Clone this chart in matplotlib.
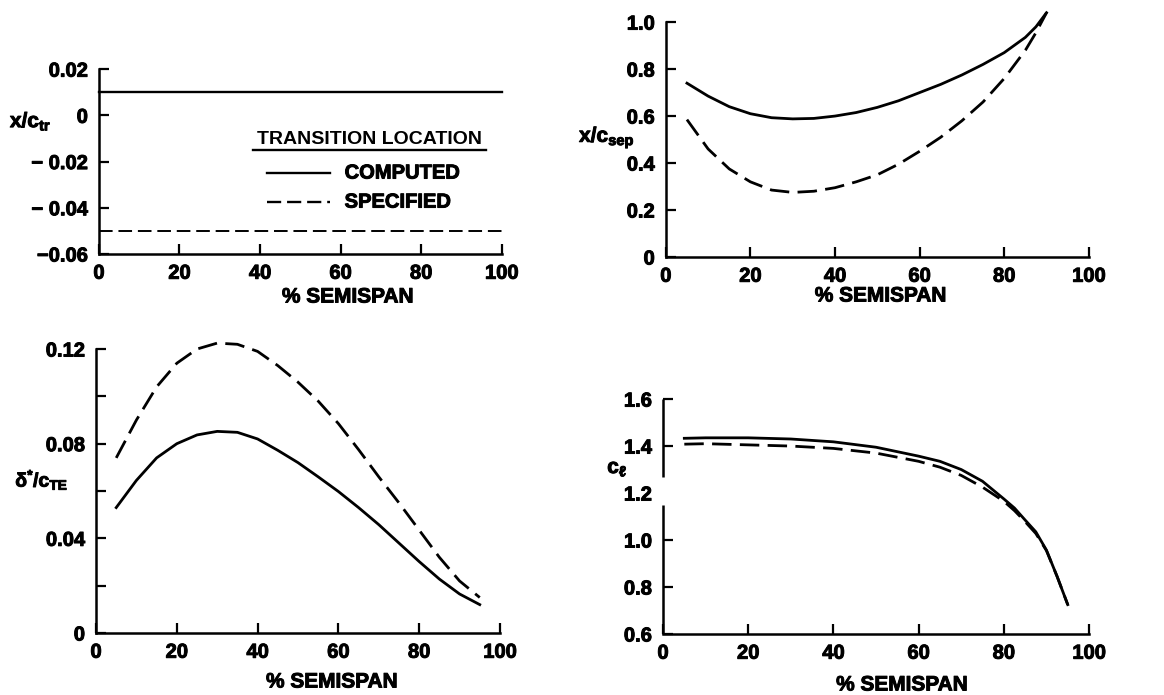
import numpy as np
import matplotlib
matplotlib.use("Agg")
import matplotlib.pyplot as plt
import matplotlib.patheffects as pe

plt.rcParams['font.family'] = ['Liberation Sans', 'DejaVu Sans']
plt.rcParams['font.weight'] = 'bold'
plt.rcParams['mathtext.fontset'] = 'custom'
plt.rcParams['mathtext.rm'] = 'Liberation Sans:bold'
plt.rcParams['mathtext.bf'] = 'Liberation Sans:bold'
plt.rcParams['mathtext.it'] = 'Liberation Sans:bold'

# --- data ---
# transition location (top left)
span_tr = [0, 100]
tr_computed = [0.01, 0.01]
tr_specified = [-0.05, -0.05]

# separation location (top right)
span_sep = [5, 10, 15, 20, 25, 30, 35, 40, 45, 50, 55, 60, 65, 70, 75, 80, 85, 87.5, 90]
sep_computed = [0.74, 0.685, 0.64, 0.61, 0.593, 0.588, 0.59, 0.60, 0.615, 0.637,
                0.665, 0.70, 0.735, 0.775, 0.82, 0.87, 0.935, 0.98, 1.04]
sep_specified = [0.585, 0.46, 0.375, 0.32, 0.285, 0.275, 0.28, 0.295, 0.32, 0.35,
                 0.395, 0.45, 0.51, 0.58, 0.66, 0.76, 0.88, 0.955, 1.04]

# displacement thickness at trailing edge (bottom left)
span_te = [5, 10, 15, 20, 25, 30, 35, 40, 45, 50, 55, 60, 65, 70, 75, 80, 85, 90, 95]
te_computed = [0.053, 0.0645, 0.074, 0.080, 0.0837, 0.0852, 0.0848, 0.082, 0.0772, 0.072,
               0.066, 0.0598, 0.053, 0.0458, 0.038, 0.0302, 0.0228, 0.0165, 0.012]
te_specified = [0.074, 0.090, 0.104, 0.114, 0.120, 0.1225, 0.122, 0.119, 0.113, 0.106,
                0.098, 0.0885, 0.0775, 0.066, 0.055, 0.0435, 0.032, 0.022, 0.015]

# section lift (bottom right)
span_cl = [5, 10, 20, 30, 40, 50, 60, 65, 70, 75, 80, 82.5, 85, 87.5, 90, 92.5, 95]
cl_computed = [1.433, 1.435, 1.435, 1.43, 1.418, 1.395, 1.357, 1.335, 1.30, 1.25,
               1.175, 1.136, 1.085, 1.035, 0.957, 0.845, 0.725]
cl_specified = [1.408, 1.41, 1.405, 1.40, 1.39, 1.37, 1.335, 1.31, 1.275, 1.225,
                1.165, 1.125, 1.078, 1.028, 0.955, 0.845, 0.725]

x_ticks = [0, 20, 40, 60, 80, 100]

fig = plt.figure(figsize=(11.64, 6.95), dpi=100)
ax1 = fig.add_axes([0.085, 0.6345, 0.346, 0.266])
ax2 = fig.add_axes([0.572, 0.6302, 0.3634, 0.338])
ax3 = fig.add_axes([0.0825, 0.0892, 0.347, 0.4086])
ax4 = fig.add_axes([0.5696, 0.0878, 0.366, 0.338])

LW = 2.0
DASH = (7, 3)
heavy = [pe.withStroke(linewidth=0.7, foreground='black')]


def style(ax):
    for s in ['top', 'right']:
        ax.spines[s].set_visible(False)
    for s in ['left', 'bottom']:
        ax.spines[s].set_linewidth(1.8)
    ax.set_xlim(0, 100)
    ax.set_xticks(x_ticks)
    ax.set_xticklabels([str(t) for t in x_ticks])
    ax.tick_params(direction='in', length=7, width=1.6, labelsize=14.5, pad=7)
    ax.tick_params(axis='y', pad=8)
    for lab in ax.get_xticklabels() + ax.get_yticklabels():
        lab.set_path_effects(heavy)


def xlabel(ax, xf, yoff):
    ax.annotate('% SEMISPAN', xy=(xf, 0), xycoords='axes fraction',
                xytext=(0, -yoff), textcoords='offset pixels',
                ha='center', va='center', fontsize=15, fontweight='bold',
                path_effects=heavy)


def ylabel(ax, s, xf, yf, size=15):
    ax.text(xf, yf, s, transform=ax.transAxes, ha='left', va='baseline',
            fontsize=size, path_effects=heavy)


# top left
ax1.plot(span_tr, tr_computed, color='black', lw=1.7, clip_on=False)
ax1.plot(span_tr, tr_specified, color='black', lw=1.4, dashes=(7, 3), clip_on=False)
ax1.set_ylim(-0.06, 0.02)
ax1.set_yticks([-0.06, -0.04, -0.02, 0, 0.02])
ax1.set_yticklabels(['\u22120.06', '\u2212 0.04', '\u2212 0.02', '0', '0.02'])
style(ax1)
ylabel(ax1, r'$\mathbf{x/c_{tr}}$', -0.221, 0.686)
xlabel(ax1, 0.618, 43)

# legend
ax1.text(0.393, 0.618, 'TRANSITION LOCATION', transform=ax1.transAxes,
         ha='left', va='center', fontsize=14, fontweight='bold')
ax1.plot([0.383, 0.962], [0.565, 0.565], transform=ax1.transAxes,
         color='black', lw=1.7, clip_on=False)
ax1.plot([0.417, 0.573], [0.438, 0.438], transform=ax1.transAxes,
         color='black', lw=1.7, clip_on=False)
ax1.plot([0.417, 0.573], [0.281, 0.281], transform=ax1.transAxes,
         color='black', lw=1.7, dashes=(6, 2.5), clip_on=False)
ax1.text(0.610, 0.438, 'COMPUTED', transform=ax1.transAxes,
         ha='left', va='center', fontsize=14.5, path_effects=heavy)
ax1.text(0.610, 0.281, 'SPECIFIED', transform=ax1.transAxes,
         ha='left', va='center', fontsize=14.5, path_effects=heavy)

# top right
ax2.plot(span_sep, sep_computed, color='black', lw=LW, clip_on=False)
ax2.plot(span_sep, sep_specified, color='black', lw=LW, dashes=DASH, clip_on=False)
ax2.set_ylim(0, 1.0)
ax2.set_yticks([0, 0.2, 0.4, 0.6, 0.8, 1.0])
ax2.set_yticklabels(['0', '0.2', '0.4', '0.6', '0.8', '1.0'])
style(ax2)
ylabel(ax2, r'$\mathbf{x/c_{sep}}$', -0.205, 0.49)
xlabel(ax2, 0.508, 39)

# bottom left
ax3.plot(span_te, te_computed, color='black', lw=LW, clip_on=False)
ax3.plot(span_te, te_specified, color='black', lw=LW, dashes=DASH, clip_on=False)
ax3.set_ylim(0, 0.12)
ax3.set_yticks([0, 0.02, 0.04, 0.06, 0.08, 0.10, 0.12])
ax3.set_yticklabels(['0', '', '0.04', '', '0.08', '', '0.12'])
style(ax3)
ylabel(ax3, r'$\mathbf{\delta^{*}/c_{TE}}$', -0.2, 0.515, size=14)
xlabel(ax3, 0.584, 49)

# bottom right
ax4.plot(span_cl, cl_computed, color='black', lw=LW, clip_on=False)
ax4.plot(span_cl, cl_specified, color='black', lw=LW, dashes=DASH, clip_on=False)
ax4.set_ylim(0.6, 1.6)
ax4.set_yticks([0.6, 0.8, 1.0, 1.2, 1.4, 1.6])
ax4.set_yticklabels(['0.6', '0.8', '1.0', '1.2', '1.4', '1.6'])
style(ax4)
ax4.yaxis.get_major_ticks()[3].tick1line.set_visible(False)
# broken y axis between 1.15 and 1.27
ax4.spines['left'].set_visible(False)
ax4.vlines(0, 0.6, 1.15, color='black', lw=1.8, clip_on=False)
ax4.vlines(0, 1.27, 1.6, color='black', lw=1.8, clip_on=False)
ylabel(ax4, r'$\mathbf{c_{\ell}}$', -0.131, 0.685)
xlabel(ax4, 0.561, 51)

fig.savefig('out.png', dpi=100)
